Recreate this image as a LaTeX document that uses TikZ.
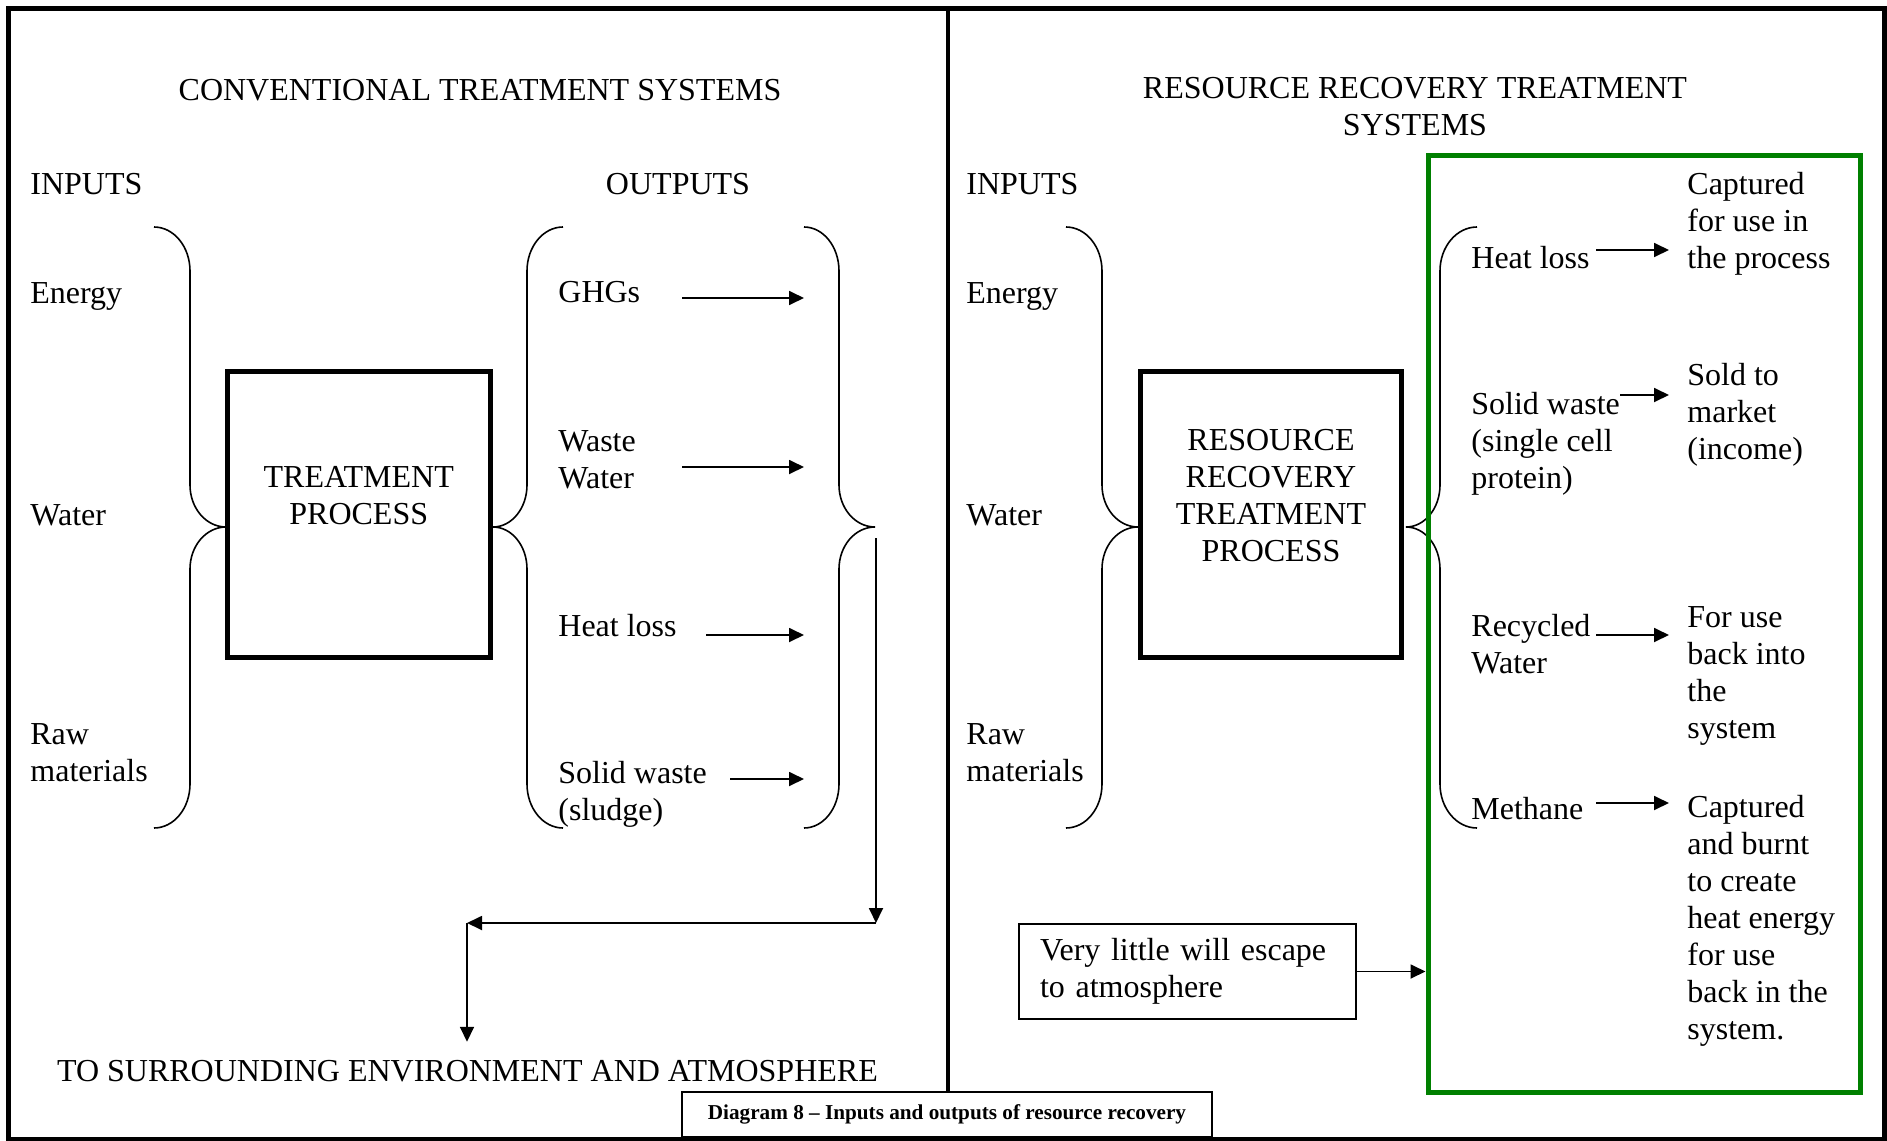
\documentclass[tikz,border=0pt]{standalone}
\usepackage{fontspec}
\setmainfont{Liberation Serif}
\usetikzlibrary{arrows.meta, calc, positioning}
\definecolor{recovgreen}{RGB}{0,128,0}

% brace: end x, stem x, tip x, top y, tip y, bottom y
\newcommand{\wordbrace}[6]{%
  \draw[bracestroke] (#1,#4) .. controls ({#1+0.552*(#2-#1)},#4) and (#2,{#4+19.7}) .. (#2,{#4+44})
    -- (#2,{#5-42}) .. controls (#2,{#5-18.8}) and ({#3-0.552*(#3-#2)},#5) .. (#3,#5)
    .. controls ({#3-0.552*(#3-#2)},#5) and (#2,{#5+18.8}) .. (#2,{#5+42})
    -- (#2,{#6-44}) .. controls (#2,{#6-19.7}) and ({#1+0.552*(#2-#1)},#6) .. (#1,#6);}

\begin{document}
\begin{tikzpicture}[x=0.5pt, y=-0.5pt, >={Triangle[length=7.5pt, width=7pt]},
    txt/.style={font=\fontsize{16}{18.5}\selectfont, inner sep=0pt, align=left, anchor=west},
    heading/.style={txt, align=center, anchor=center},
    arr/.style={->, line width=0.9pt},
    bracestroke/.style={line width=0.8pt},
    procbox/.style={draw, line width=2.5pt, inner sep=0pt, align=center, font=\fontsize{16}{18.5}\selectfont},
    notebox/.style={draw, line width=1pt, inner xsep=10.5pt, inner ysep=0pt, text width=147.5pt,
      minimum height=47.5pt, align=left, font=\fontsize{16}{18.5}\selectfont},
    recovbox/.style={draw=recovgreen, line width=2.5pt, minimum width=216pt, minimum height=468.25pt}]
  \useasboundingbox (0,0) rectangle (1887,1141);

  % Frame and divider
  \draw[line width=2.5pt] (8.5,8.5) rectangle (1884.5,1139);
  \draw[line width=2pt] (948,8) -- (948,1092);

  % Caption
  \node[draw, fill=white, line width=1pt, minimum width=265pt, minimum height=22.5pt, inner sep=0pt,
    font=\bfseries\fontsize{10.6}{12}\selectfont] (caption) at (947,1114.5)
    {Diagram 8 -- Inputs and outputs of resource recovery};

  % ---- Conventional treatment ----
  \node[heading] (convtitle) at (480,90) {CONVENTIONAL TREATMENT SYSTEMS};
  \node[txt] (inputsL) at (30,184) {INPUTS};
  \node[heading] (outputsL) at (678,184) {OUTPUTS};
  \node[txt] (energyL) at (30,296) {Energy};
  \node[txt] (waterL) at (30,515) {Water};
  \node[txt] (rawL) at (30,753) {Raw\\materials};

  \node[procbox, minimum width=131.25pt, minimum height=142.75pt] (treat) at (358.75,514.25)
    {TREATMENT\\PROCESS\\~};

  \node[txt] (ghg) at (558,292) {GHGs};
  \node[txt] (wastew) at (558,460) {Waste\\Water};
  \node[txt] (heatL) at (558,626) {Heat loss};
  \node[txt] (sludge) at (558,794) {Solid waste\\(sludge)};

  \wordbrace{154}{190}{226}{227}{527}{828}
  \wordbrace{563}{527}{493}{227}{527}{828}
  \wordbrace{804}{839}{875}{227}{527}{828}

  % output arrows
  \coordinate (outend) at (804,0);
  \coordinate (ghgA) at (682,298);
  \coordinate (wasteA) at (682,467);
  \coordinate (heatA) at (706,635);
  \coordinate (sludgeA) at (730,779);
  \draw[arr] (ghgA) -- (ghgA -| outend);
  \draw[arr] (wasteA) -- (wasteA -| outend);
  \draw[arr] (heatA) -- (heatA -| outend);
  \draw[arr] (sludgeA) -- (sludgeA -| outend);

  % to environment
  \node[heading] (toenv) at (467.5,1071) {TO SURROUNDING ENVIRONMENT AND ATMOSPHERE};
  \coordinate (outtip) at (876,538);
  \coordinate (bendA) at (876,923);
  \coordinate (bendB) at (467,923);
  \draw[arr] (outtip) -- (bendA);
  \draw[arr] (bendA) -- (bendB);
  \draw[arr, shorten >=9pt] (bendB) -- (bendB |- toenv.north);

  % ---- Resource recovery ----
  \node[heading] (rectitle) at (1415,107) {RESOURCE RECOVERY TREATMENT\\SYSTEMS};
  \node[txt] (inputsR) at (966,184) {INPUTS};
  \node[txt] (energyR) at (966,296) {Energy};
  \node[txt] (waterR) at (966,515) {Water};
  \node[txt] (rawR) at (966,753) {Raw\\materials};

  \node[procbox, minimum width=130.5pt, minimum height=142.75pt] (recproc) at (1271,514.25)
    {RESOURCE\\RECOVERY\\TREATMENT\\PROCESS\\~};

  \wordbrace{1066}{1102}{1138}{227}{527}{828}
  \wordbrace{1477}{1440}{1406}{227}{527}{828}

  \node[recovbox] (recov) at (1644,623.75) {};

  \node[txt] (heatR) at (1471,258) {Heat loss};
  \node[txt] (captured) at (1687,224) {Captured\\for use in\\the process};
  \node[txt] (solidR) at (1471,444) {Solid waste\\(single cell\\protein)};
  \node[txt] (sold) at (1687,415) {Sold to\\market\\(income)};
  \node[txt] (recyc) at (1471,644) {Recycled\\Water};
  \node[txt] (foruse) at (1687,676) {For use\\back into\\the\\system};
  \node[txt] (methane) at (1471,809) {Methane};
  \node[txt] (burnt) at (1687,921) {Captured\\and burnt\\to create\\heat energy\\for use\\back in the\\system.};

  \coordinate (useend) at (1669,0);
  \coordinate (heatB) at (1596,250);
  \coordinate (solidB) at (1620,395);
  \coordinate (recycB) at (1596,635);
  \coordinate (methB) at (1596,803);
  \draw[arr] (heatB) -- (heatB -| useend);
  \draw[arr] (solidB) -- (solidB -| useend);
  \draw[arr] (recycB) -- (recycB -| useend);
  \draw[arr] (methB) -- (methB -| useend);

  \node[notebox] (escape) at (1187.5,971.5) {Very little will escape\\to atmosphere};
  \draw[arr] (escape.east) -- (escape.east -| recov.west);
\end{tikzpicture}
\end{document}
